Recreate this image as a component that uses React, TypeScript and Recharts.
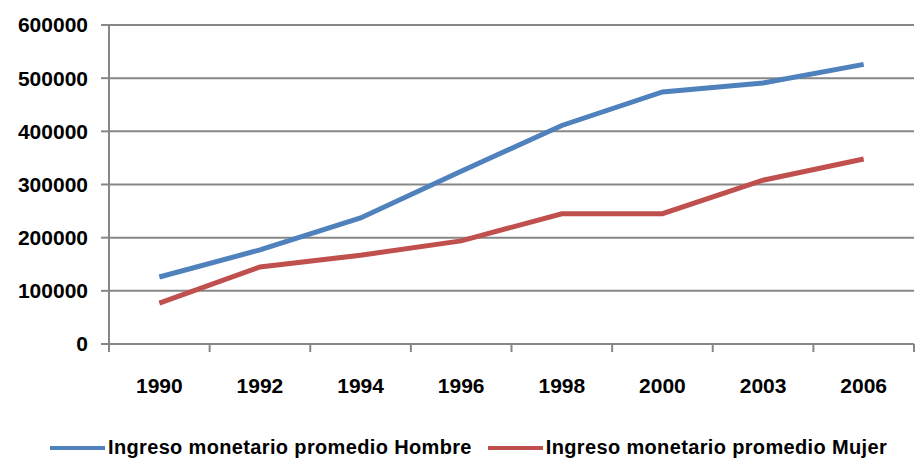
import { LineChart, Line, XAxis, YAxis, CartesianGrid, Legend } from 'recharts';

const years = ['1990', '1992', '1994', '1996', '1998', '2000', '2003', '2006'];
const hombre = [126000, 177000, 237000, 325000, 411000, 474000, 491000, 526000];
const mujer = [77000, 145000, 167000, 194000, 245000, 245000, 308000, 348000];
const yTicks = [0, 100000, 200000, 300000, 400000, 500000, 600000];

const series = [
  { key: 'hombre', name: 'Ingreso monetario promedio Hombre', color: '#4F81BD' },
  { key: 'mujer', name: 'Ingreso monetario promedio Mujer', color: '#C0504D' },
];

const data = years.map((year, i) => ({ year, hombre: hombre[i], mujer: mujer[i] }));

const W = 915;
const H = 459;
const LEFT = 109;
const RIGHT = 1;
const TOP = 25;
const PLOT_BOTTOM = 344;
const BAND = (W - LEFT - RIGHT) / years.length;
const GRID = '#878787';
const FONT = '"Liberation Sans", Arial, sans-serif';

function XTick(props: any) {
  const { x, index } = props;
  return (
    <g>
      <line x1={x - BAND / 2} x2={x - BAND / 2} y1={PLOT_BOTTOM} y2={PLOT_BOTTOM + 8} stroke={GRID} strokeWidth={2} />
      {index === years.length - 1 && (
        <line x1={x + BAND / 2} x2={x + BAND / 2} y1={PLOT_BOTTOM} y2={PLOT_BOTTOM + 8} stroke={GRID} strokeWidth={2} />
      )}
      <text x={x} y={PLOT_BOTTOM + 49} textAnchor="middle" fontFamily={FONT} fontWeight="bold" fontSize={21} fill="#000">
        {props.payload.value}
      </text>
    </g>
  );
}

function LegendContent() {
  return (
    <div style={{ display: 'flex', alignItems: 'center', paddingLeft: 50, fontFamily: FONT, fontWeight: 'bold', fontSize: 20, letterSpacing: 0.35, color: '#000' }}>
      {series.map((s, i) => (
        <div key={s.key} style={{ display: 'flex', alignItems: 'center', marginRight: i === 0 ? 16 : 0 }}>
          <div style={{ width: 55, height: 4, background: s.color, marginRight: 3 }} />
          <span>{s.name}</span>
        </div>
      ))}
    </div>
  );
}

export default function App() {
  return (
    <div style={{ position: 'absolute', left: 0, top: 0, background: '#fff' }}>
      <LineChart width={W} height={H} data={data} margin={{ top: TOP, right: RIGHT, left: 0, bottom: 0 }}>
        <CartesianGrid vertical={false} stroke={GRID} strokeWidth={2} />
        <XAxis
          dataKey="year"
          height={85}
          padding={{ left: BAND / 2, right: BAND / 2 }}
          axisLine={{ stroke: GRID, strokeWidth: 2 }}
          tickLine={false}
          tick={<XTick />}
          interval={0}
        />
        <YAxis
          width={LEFT}
          domain={[0, 600000]}
          ticks={yTicks}
          interval={0}
          axisLine={{ stroke: GRID, strokeWidth: 2 }}
          tickLine={{ stroke: GRID, strokeWidth: 2 }}
          tickSize={8}
          tickMargin={13}
          tick={{ fontFamily: FONT, fontWeight: 'bold', fontSize: 21, fill: '#000' }}
        />
        <Legend height={30} verticalAlign="bottom" content={<LegendContent />} wrapperStyle={{ left: 0, top: 436 }} />
        {series.map((s) => (
          <Line
            key={s.key}
            type="linear"
            dataKey={s.key}
            name={s.name}
            stroke={s.color}
            strokeWidth={5}
            dot={false}
            isAnimationActive={false}
          />
        ))}
      </LineChart>
    </div>
  );
}
